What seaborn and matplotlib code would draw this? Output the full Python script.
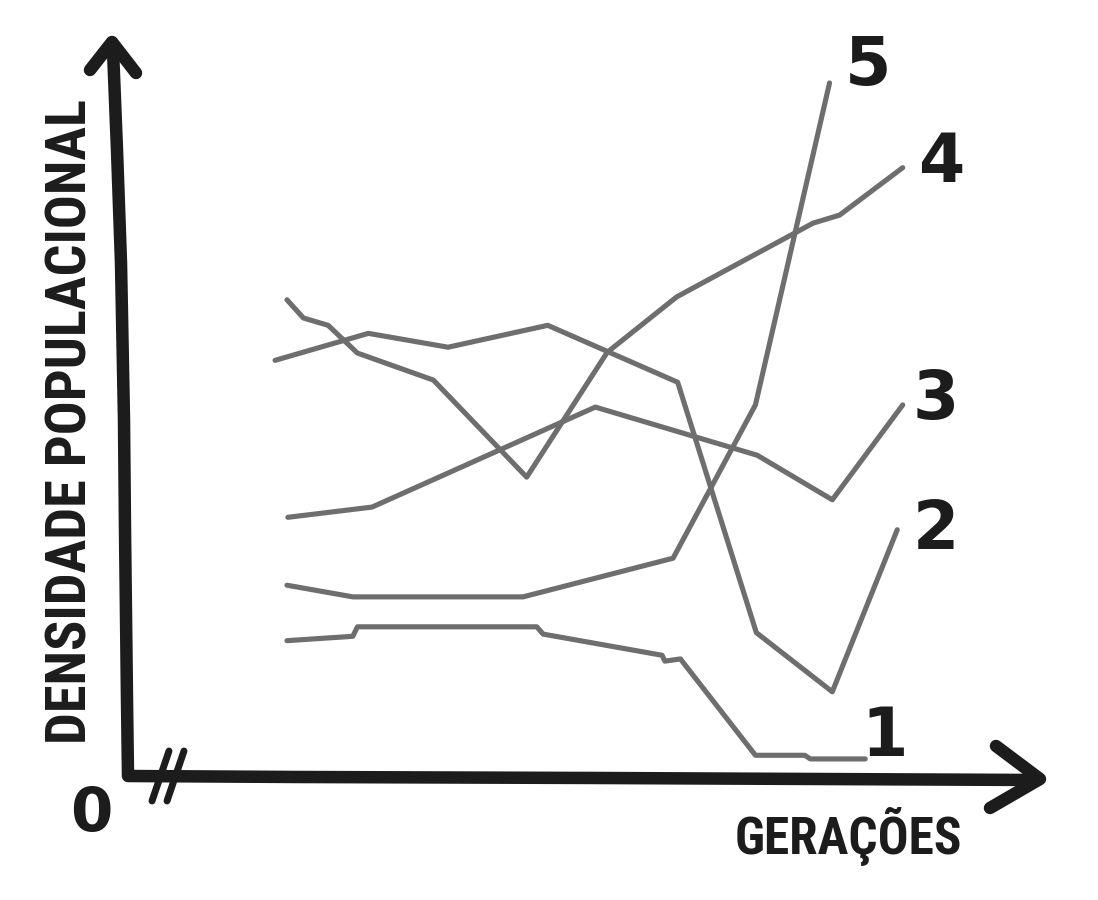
import matplotlib
matplotlib.use("Agg")
import matplotlib.pyplot as plt
import numpy as np
import pandas as pd
import seaborn as sns

# values: generation (0-100) vs population density (0-100)
pop1_gen = [17.7, 24.9, 25.4, 45.0, 45.7, 58.7, 59.0, 60.7, 68.9, 74.3, 74.9, 80.9]
pop1_den = [18.4, 19.0, 20.3, 20.3, 19.3, 16.4, 15.6, 15.9, 2.7, 2.7, 2.2, 2.2]

pop2_gen = [16.4, 26.6, 35.3, 46.2, 60.4, 69.0, 77.3, 84.4]
pop2_den = [56.8, 60.5, 58.6, 61.6, 53.8, 19.5, 11.4, 33.6]

pop3_gen = [17.8, 27.0, 51.4, 69.1, 77.3, 85.0]
pop3_den = [35.3, 36.7, 50.4, 43.8, 37.7, 50.7]

pop4_gen = [17.7, 19.5, 22.2, 25.4, 33.7, 43.9, 52.7, 60.3, 75.2, 78.1, 85.0]
pop4_den = [65.1, 62.6, 61.6, 57.8, 54.1, 40.8, 57.9, 65.5, 75.6, 76.7, 83.2]

pop5_gen = [17.7, 24.9, 43.5, 59.9, 68.9, 77.0]
pop5_den = [26.0, 24.4, 24.4, 29.7, 50.7, 94.8]

pop_names = ["1", "2", "3", "4", "5"]
# label offsets from the end of each line (pixels)
label_offsets = {"1": (19, 22), "2": (39, 0), "3": (33, 5), "4": (38, 5), "5": (38, 17)}

gens = [pop1_gen, pop2_gen, pop3_gen, pop4_gen, pop5_gen]
dens = [pop1_den, pop2_den, pop3_den, pop4_den, pop5_den]
rows = []
for name, g, d in zip(pop_names, gens, dens):
    for i, (gx, dy) in enumerate(zip(g, d)):
        rows.append({"populacao": name, "ordem": i, "geracao": gx, "densidade": dy})
df = pd.DataFrame(rows)

sns.set_theme(style="white")
ink = "#1c1c1c"
gray = "#6e6e6e"

fig = plt.figure(figsize=(10.98, 9), dpi=100)
ax = fig.add_axes([125 / 1098, 125 / 900, 915 / 1098, 730 / 900])
ax.set_xlim(0, 100)
ax.set_ylim(0, 100)
ax.axis("off")

sns.lineplot(data=df, x="geracao", y="densidade", units="populacao", estimator=None,
             sort=False, color=gray, linewidth=3.7, ax=ax, legend=False)

for name, g, d in zip(pop_names, gens, dens):
    ax.annotate(name, xy=(g[-1], d[-1]), xytext=label_offsets[name], textcoords="offset pixels",
                ha="center", va="center", fontsize=48, fontweight="bold", color=ink,
                family=["DejaVu Sans"])

# hand-drawn axes (axes-fraction coordinates)
def px(x, y):
    return ((x - 125) / 915, (775 - y) / 730)

axis_pts = [px(113, 50), px(117, 150), px(121, 263), px(124, 420), px(125, 530),
            px(127, 700), px(128, 776), px(300, 777), px(600, 778), px(1036, 780)]
ax.plot([p[0] for p in axis_pts], [p[1] for p in axis_pts], color=ink, lw=9,
        transform=ax.transAxes, clip_on=False, solid_joinstyle="round", solid_capstyle="round")

top_head = [px(90, 70), px(112, 42), px(136, 73)]
ax.plot([p[0] for p in top_head], [p[1] for p in top_head], color=ink, lw=9,
        transform=ax.transAxes, clip_on=False, solid_joinstyle="round", solid_capstyle="round")
right_head = [px(996, 746), px(1040, 779), px(990, 808)]
ax.plot([p[0] for p in right_head], [p[1] for p in right_head], color=ink, lw=9,
        transform=ax.transAxes, clip_on=False, solid_joinstyle="round", solid_capstyle="round")

for x0 in (0, 15):
    s = [px(169 + x0, 751), px(152 + x0, 801)]
    ax.plot([p[0] for p in s], [p[1] for p in s], color=ink, lw=5,
            transform=ax.transAxes, clip_on=False, solid_capstyle="round")

narrow = ["Roboto Condensed", "DejaVu Sans"]
ax.text(*px(72, 422), "DENSIDADE POPULACIONAL", transform=ax.transAxes, rotation=90,
        ha="center", va="center", fontsize=40.5, fontweight="bold", fontstretch="condensed",
        color=ink, family=narrow)
ax.text(*px(848, 836), "GERAÇÕES", transform=ax.transAxes, ha="center", va="center",
        fontsize=37, fontweight="bold", fontstretch="condensed", color=ink, family=narrow)
ax.text(*px(91, 815), "0", transform=ax.transAxes, ha="center", va="center",
        fontsize=44, fontweight="bold", color=ink, family=["DejaVu Sans"])

fig.savefig("out.png", dpi=100)
